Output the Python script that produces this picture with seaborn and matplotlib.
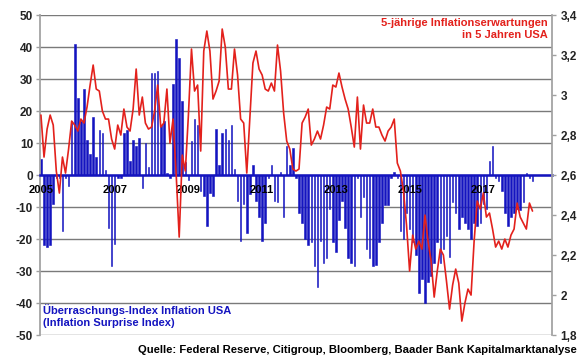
import matplotlib
matplotlib.use("Agg")
import matplotlib.pyplot as plt
import seaborn as sns
import pandas as pd

# Monthly values, Jan 2005 onwards
surprise = [
    5, -22, -22.5, -22, -9, -1, -1, -17.5, -1, -3.5, 17, 41,
    24, 17, 27, 11, 6.5, 18, 5.5, 14, 13, 1.5, -16.5, -28.5,
    -21.5, -1, -1, 13, 14, 4.5, 11, 9, 11.5, -4, 10, 2.5,
    32, 32, 32.5, 15.5, 17, 0.5, -1, 28.5, 42.5, 36.5, 23, 4,
    -1.5, 10.5, 17.5, 15.5, -5, -6.5, -16, -5.5, -6.5, 14.5, 3, 13,
    14.5, 11, 15.5, 2, -8, -20.5, -9, -18, -6, 3, -8, -13,
    -20.5, -15, -1, 3, -8, -8.5, 1, -13, 9, 3, 8.5, -1,
    -12, -15, -20, -22, -21, -28.5, -35, -20.5, -27.5, -26, -10.5, -21,
    -24, -14, -8, -16.5, -26, -27.5, -28.5, -1, -13, -7, -23, -26,
    -28.5, -28, -21, -15, -9.5, -9.5, -1, 1, -1, -17.5, -20, -12,
    -17, -21, -25, -37, -32.5, -40, -33.5, -31.5, -27.5, -21, -27.5, -23,
    -19, -25.5, -8.5, -12, -17, -13, -15, -17, -20, -15, -16, -15,
    -9, -10.5, 4.5, 9, -1, -2, -5, -12, -16, -13, -12, -10.5,
    -11, -8.5, 0.5, -1, -2,
]

expectations = [
    2.90, 2.69, 2.83, 2.90, 2.85, 2.62, 2.51, 2.69, 2.61, 2.73, 2.87, 2.85,
    2.82, 2.88, 2.86, 2.94, 3.05, 3.15, 3.03, 3.02, 2.92, 2.88, 2.88, 2.78,
    2.73, 2.85, 2.80, 2.93, 2.84, 2.82, 2.93, 3.13, 2.90, 2.99, 2.86, 2.83,
    2.84, 2.92, 3.05, 2.84, 2.86, 3.03, 2.76, 2.88, 2.61, 2.29, 2.70, 2.62,
    2.90, 3.23, 3.02, 3.05, 2.72, 3.22, 3.32, 3.22, 2.98, 3.02, 3.07, 3.33,
    3.24, 3.03, 3.03, 3.23, 3.10, 2.88, 2.86, 2.61, 2.89, 3.16, 3.22, 3.13,
    3.10, 3.03, 3.02, 3.06, 3.02, 3.25, 3.12, 2.91, 2.77, 2.73, 2.63, 2.62,
    2.63, 2.86, 2.89, 2.93, 2.75, 2.78, 2.82, 2.78, 2.85, 2.94, 2.93, 3.05,
    3.04, 3.11, 3.04, 2.98, 2.93, 2.84, 2.74, 2.99, 2.73, 2.95, 2.86, 2.86,
    2.93, 2.84, 2.84, 2.80, 2.77, 2.82, 2.84, 2.88, 2.66, 2.62, 2.52, 2.35,
    2.12, 2.30, 2.23, 2.27, 2.23, 2.40, 2.27, 2.17, 1.99, 2.12, 2.23, 2.20,
    2.07, 1.93, 2.05, 2.13, 2.06, 1.87, 1.96, 2.03, 2.00, 2.27, 2.47, 2.43,
    2.51, 2.39, 2.41, 2.33, 2.24, 2.27, 2.23, 2.28, 2.24, 2.30, 2.33, 2.46,
    2.39, 2.36, 2.33, 2.46, 2.42,
]

year_labels = ['2005', '2007', '2009', '2011', '2013', '2015', '2017']
left_ticks = [-50, -40, -30, -20, -10, 0, 10, 20, 30, 40, 50]
right_ticks = [1.8, 2.0, 2.2, 2.4, 2.6, 2.8, 3.0, 3.2, 3.4]
right_labels = ['1,8', '2', '2,2', '2,4', '2,6', '2,8', '3', '3,2', '3,4']

df = pd.DataFrame({'month': range(len(surprise)),
                   'surprise': surprise,
                   'expect': expectations})

blue = '#1414c0'
red = '#e3211c'
grey = '#7a7a7a'

sns.set_theme(style='white')
plt.rcParams['font.family'] = ['Liberation Sans', 'DejaVu Sans']
plt.rcParams['font.weight'] = 'bold'

fig, ax = plt.subplots(figsize=(5.8, 3.58), dpi=100)
fig.subplots_adjust(left=0.069, right=0.952, top=0.958, bottom=0.064)

# horizontal grid lines behind the bars
for v in left_ticks:
    ax.axhline(v, color=grey, lw=1, zorder=0)

sns.barplot(data=df, x='month', y='surprise', color=blue, saturation=1,
            width=0.5, linewidth=0.4, edgecolor=blue, errorbar=None,
            native_scale=True, ax=ax)

ax.set_ylim(-50, 50)
ax.set_xlim(-0.3, 166.4)
ax.set_yticks(left_ticks)
ax.set_yticklabels([str(v) for v in left_ticks])
ax.set_xticks(range(0, 12 * 2 * len(year_labels), 24))
ax.set_xticklabels(year_labels)
ax.set_xlabel('')
ax.set_ylabel('')
ax.xaxis.set_zorder(5)

ax.spines['bottom'].set_position(('data', 0))
ax.spines['bottom'].set_color(blue)
ax.spines['bottom'].set_linewidth(1.8)
ax.spines['top'].set_visible(False)
ax.spines['right'].set_visible(False)
ax.spines['left'].set_color('#a0a0a0')
ax.tick_params(axis='x', length=0, pad=7, labelsize=8, labelcolor='black')
ax.tick_params(axis='y', length=3, width=1, color='#a0a0a0', pad=2,
               labelsize=8.5, labelcolor='#222222', left=True)

ax2 = ax.twinx()
sns.lineplot(data=df, x='month', y='expect', color=red, lw=1.2, ax=ax2)
ax2.set_ylim(1.8, 3.4)
ax2.set_yticks(right_ticks)
ax2.set_yticklabels(right_labels)
ax2.set_ylabel('')
ax2.set_xlim(-0.3, 166.4)
for s in ['top', 'bottom', 'left']:
    ax2.spines[s].set_visible(False)
ax2.spines['right'].set_color('#a0a0a0')
ax2.tick_params(axis='y', length=3, width=1, color='#a0a0a0', pad=3,
                labelsize=8.5, labelcolor='#222222', right=True)

fig.text(548 / 580, 1 - 18 / 358, '5-jährige Inflationserwartungen\nin 5 Jahren USA',
         ha='right', va='top', color=red, fontsize=8, fontweight='bold',
         multialignment='right')
fig.text(43 / 580, 1 - 304 / 358, 'Überraschungs-Index Inflation USA\n(Inflation Surprise Index)',
         ha='left', va='top', color=blue, fontsize=8, fontweight='bold')
fig.text(577 / 580, 1 - 350 / 358,
         'Quelle: Federal Reserve, Citigroup, Bloomberg, Baader Bank Kapitalmarktanalyse',
         ha='right', va='center', color='black', fontsize=8.1, fontweight='bold')

fig.savefig('out.png', dpi=100, facecolor='white')
